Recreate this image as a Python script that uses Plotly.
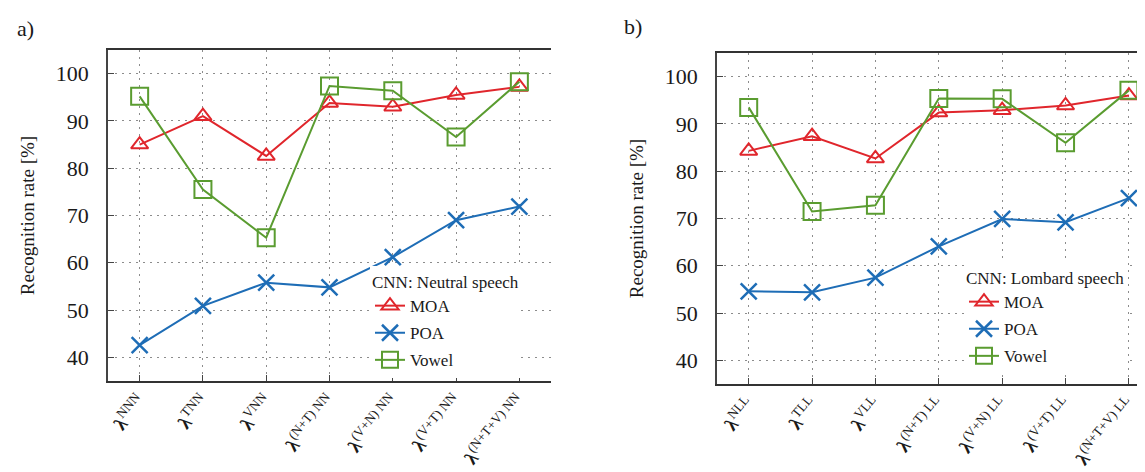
import plotly.graph_objects as go

# ---- data ----
cats_a = ["<b>λ</b><sup>NNN</sup>", "<b>λ</b><sup>TNN</sup>", "<b>λ</b><sup>VNN</sup>", "<b>λ</b><sup>(N+T) NN</sup>",
          "<b>λ</b><sup>(V+N) NN</sup>", "<b>λ</b><sup>(V+T) NN</sup>", "<b>λ</b><sup>(N+T+V) NN</sup>"]
cats_b = ["<b>λ</b><sup>NLL</sup>", "<b>λ</b><sup>TLL</sup>", "<b>λ</b><sup>VLL</sup>", "<b>λ</b><sup>(N+T) LL</sup>",
          "<b>λ</b><sup>(V+N) LL</sup>", "<b>λ</b><sup>(V+T) LL</sup>", "<b>λ</b><sup>(N+T+V) LL</sup>"]

moa_a = [85.0, 91.0, 82.6, 93.8, 93.0, 95.5, 97.2]
poa_a = [42.6, 50.9, 55.8, 54.8, 61.2, 69.0, 71.9]
vowel_a = [95.2, 75.5, 65.3, 97.4, 96.4, 86.6, 98.3]

moa_b = [84.3, 87.4, 82.7, 92.4, 92.9, 93.9, 96.0]
poa_b = [54.6, 54.4, 57.5, 64.1, 69.9, 69.2, 74.3]
vowel_b = [93.5, 71.5, 72.8, 95.4, 95.3, 86.0, 97.1]

yticks = [40, 50, 60, 70, 80, 90, 100]

# ---- style ----
RED = "#e0262c"
BLUE = "#1e6db6"
GREEN = "#5a9c30"
FONT = "Liberation Serif"
W, H = 1145, 472

series = [
    ("MOA", RED, dict(symbol="triangle-up-open", size=15, line=dict(width=2, color=RED))),
    ("POA", BLUE, dict(symbol="x-thin-open", size=16, line=dict(width=2.5, color=BLUE))),
    ("Vowel", GREEN, dict(symbol="square-open", size=17, line=dict(width=2, color=GREEN))),
]

fig = go.Figure()
idx = list(range(7))
for (name, color, mk), ya, yb in zip(series, [moa_a, poa_a, vowel_a], [moa_b, poa_b, vowel_b]):
    fig.add_trace(go.Scatter(x=idx, y=ya, mode="lines+markers", name=name,
                             line=dict(color=color, width=2), marker=mk,
                             xaxis="x", yaxis="y", legend="legend",
                             legendgroup="a_" + name))
    fig.add_trace(go.Scatter(x=idx, y=yb, mode="lines+markers", name=name,
                             line=dict(color=color, width=2), marker=mk,
                             xaxis="x2", yaxis="y2", legend="legend2",
                             legendgroup="b_" + name))

def px(x):
    return x / W

def py(y):
    return 1 - y / H

grid = dict(showgrid=True, gridcolor="#8c8c8c", griddash="2px,5px", gridwidth=1)
xcommon = dict(tickmode="array", tickvals=idx, tickangle=-50,
               tickfont=dict(family=FONT, size=19, color="#1a1a1a"),
               ticks="inside", ticklen=6, tickcolor="#444",
               showline=True, linecolor="#333", linewidth=1.5, mirror=True,
               zeroline=False, automargin=False, ticklabelstandoff=0, **grid)
ycommon = dict(tickmode="array", tickvals=yticks, range=[35, 105],
               tickfont=dict(family=FONT, size=22, color="#1a1a1a"),
               ticks="inside", ticklen=6, tickcolor="#444",
               showline=True, linecolor="#444", linewidth=1.5, mirror=False,
               zeroline=False, automargin=False, ticklabelstandoff=13,
               title=dict(text="Recognition rate [%]", standoff=16,
                          font=dict(family=FONT, size=19, color="#1a1a1a")),
               **grid)

legfont = dict(family=FONT, size=17, color="#1a1a1a")
fig.update_layout(
    width=W, height=H, margin=dict(l=0, r=0, t=0, b=0),
    paper_bgcolor="white", plot_bgcolor="white",
    xaxis=dict(domain=[px(100), px(543)], range=[-0.5, 6.5], ticktext=cats_a, anchor="y", **xcommon),
    yaxis=dict(domain=[py(373), py(42)], anchor="x", **ycommon),
    xaxis2=dict(domain=[px(709), 1.0], range=[-0.5, 6.38], ticktext=cats_b, anchor="y2", **xcommon),
    yaxis2=dict(domain=[py(376), py(45)], anchor="x2", **ycommon),
    legend=dict(x=px(362), y=py(258), xanchor="left", yanchor="top",
                bgcolor="white", borderwidth=0, tracegroupgap=2, font=legfont,
                title=dict(text="CNN: Neutral speech", side="top", font=legfont)),
    legend2=dict(x=px(956), y=py(254), xanchor="left", yanchor="top",
                 bgcolor="white", borderwidth=0, tracegroupgap=2, font=legfont,
                 title=dict(text="CNN: Lombard speech", side="top", font=legfont)),
    annotations=[
        dict(text="a)", x=px(7), y=py(20), xref="paper", yref="paper", xanchor="left",
             yanchor="middle", showarrow=False, font=dict(family=FONT, size=22, color="#1a1a1a")),
        dict(text="b)", x=px(614), y=py(18), xref="paper", yref="paper", xanchor="left",
             yanchor="middle", showarrow=False, font=dict(family=FONT, size=22, color="#1a1a1a")),
    ],
)

fig.write_html("out.html")
